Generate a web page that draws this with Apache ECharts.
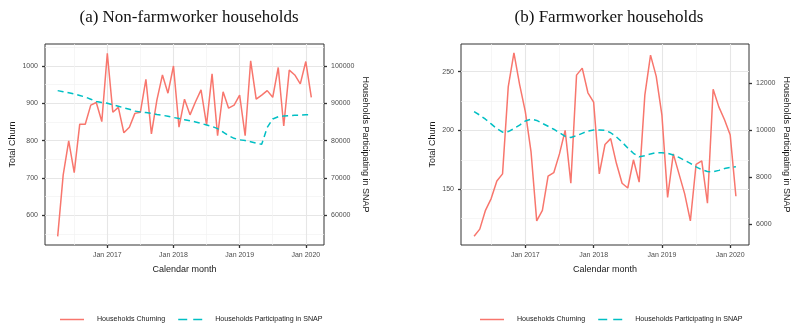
<!DOCTYPE html>
<html><head><meta charset="utf-8">
<script src="https://cdn.jsdelivr.net/npm/echarts@6/dist/echarts.min.js"></script>
<style>html,body{margin:0;padding:0;background:#fff}#c{width:800px;height:331px}</style>
</head><body><div id="c"></div>
<script>
// ---- data ----
const months = [
  '2016-04','2016-05','2016-06','2016-07','2016-08','2016-09','2016-10','2016-11','2016-12',
  '2017-01','2017-02','2017-03','2017-04','2017-05','2017-06','2017-07','2017-08','2017-09','2017-10','2017-11','2017-12',
  '2018-01','2018-02','2018-03','2018-04','2018-05','2018-06','2018-07','2018-08','2018-09','2018-10','2018-11','2018-12',
  '2019-01','2019-02','2019-03','2019-04','2019-05','2019-06','2019-07','2019-08','2019-09','2019-10','2019-11','2019-12',
  '2020-01','2020-02'
];
const churnA = [543,708,799,714,844,844,895,902,851,
  1034,876,889,821,836,873,876,964,818,909,976,927,
  1000,836,911,869,904,936,842,979,813,931,887,895,
  922,813,1014,911,922,934,916,996,839,989,976,952,
  1012,916];
const snapA = [93400,93100,92800,92500,92100,91700,91100,90500,90200,
  90000,89600,89200,88800,88400,87900,87700,87500,87300,87000,86800,86500,
  86200,85900,85600,85300,85000,84600,84200,83800,83200,82300,81300,80600,
  80200,80000,79700,79300,79000,83500,85800,86400,86600,86700,86800,86800,
  86900,86900];
const churnB = [110,116,132,142,157,163,237,266,239,
  216,182,123,132,161,164,180,200,155,247,253,232,
  224,163,188,193,172,155,151,175,156,230,264,246,
  213,143,180,163,146,123,171,174,138,235,220,209,
  196,144];
const snapB = [10800,10650,10475,10275,10075,9925,9950,10075,10225,
  10400,10475,10425,10300,10175,10050,9900,9750,9700,9775,9875,9975,
  10015,10015,10000,9900,9725,9500,9250,9025,8875,8925,9000,9050,
  9050,9025,8950,8850,8725,8600,8450,8325,8250,8240,8300,8375,
  8425,8450];
const xTickMonths = ['2017-01','2018-01','2019-01','2020-01'];
const xTickLabels = ['Jan 2017','Jan 2018','Jan 2019','Jan 2020'];
const xMinorMonths = ['2016-07','2017-07','2018-07','2019-07'];
const yTicksA = [600,700,800,900,1000];
const yMinorA = [550,650,750,850,950,1050];
const y2TicksA = [60000,70000,80000,90000,100000];
const yTicksB = [150,200,250];
const yMinorB = [125,175,225];
const y2TicksB = [6000,8000,10000,12000];
const seriesNames = ['Households Churning','Households Participating in SNAP'];
const titles = ['(a) Non-farmworker households','(b) Farmworker households'];

// ---- helpers ----
function mIdx(s){ const p = s.split('-').map(Number); return (p[0]-2016)*12 + (p[1]-1); }
const tickIdx = xTickMonths.map(mIdx);
const minorIdx = xMinorMonths.map(mIdx);
const RED = '#F8766D', TEAL = '#00BFC4';
const FONT = 'Liberation Sans';
const labelStyle = {fontSize: 7, color: '#4d4d4d', fontFamily: FONT};
const nameStyle = {fontSize: 9, color: '#1a1a1a', fontFamily: FONT};
const tickStyle = {show: true, length: 3, lineStyle: {color: '#333', width: 1.3}};
const plain = v => String(Math.round(v));

function xMain(g){
  return {gridIndex: g, type: 'value', min: 0.7, max: 51.3, position: 'bottom',
    axisLine: {show: false},
    axisTick: Object.assign({customValues: tickIdx}, tickStyle),
    axisLabel: Object.assign({customValues: tickIdx, margin: 7,
      formatter: v => { const i = tickIdx.indexOf(Math.round(v)); return i >= 0 ? xTickLabels[i] : ''; }}, labelStyle),
    splitLine: {show: true, lineStyle: {color: '#e6e6e6', width: 1.1}},
    name: 'Calendar month', nameLocation: 'middle', nameGap: 20, nameTextStyle: nameStyle};
}
function xMinor(g){
  return {gridIndex: g, type: 'value', min: 0.7, max: 51.3, position: 'top',
    axisLine: {show: false}, axisTick: {show: false, customValues: minorIdx},
    axisLabel: {show: false}, splitLine: {show: true, lineStyle: {color: '#f2f2f2', width: 0.7}}};
}
function yLeft(g, min, max, ticks, gap){
  return {gridIndex: g, type: 'value', min: min, max: max, position: 'left',
    axisLine: {show: false},
    axisTick: Object.assign({customValues: ticks}, tickStyle),
    axisLabel: Object.assign({customValues: ticks, margin: 7, formatter: plain}, labelStyle),
    splitLine: {show: true, lineStyle: {color: '#e6e6e6', width: 1.1}},
    name: 'Total Churn', nameLocation: 'middle', nameGap: gap, nameTextStyle: nameStyle};
}
function yRight(g, min, max, ticks, gap){
  return {gridIndex: g, type: 'value', min: min, max: max, position: 'right',
    axisLine: {show: false},
    axisTick: Object.assign({customValues: ticks}, tickStyle),
    axisLabel: Object.assign({customValues: ticks, margin: 7, formatter: plain}, labelStyle),
    splitLine: {show: false},
    name: 'Households Participating in SNAP', nameLocation: 'middle', nameRotate: -90, nameGap: gap, nameTextStyle: nameStyle};
}
function yMinor(g, min, max, ticks){
  return {gridIndex: g, type: 'value', min: min, max: max, position: 'left',
    axisLine: {show: false}, axisTick: {show: false, customValues: ticks},
    axisLabel: {show: false}, splitLine: {show: true, lineStyle: {color: '#f2f2f2', width: 0.7}}};
}
function toXY(vals){ return months.map((m, i) => [mIdx(m), vals[i]]); }
function lineSeries(name, xi, yi, vals, color, dashed){
  return {name: name, type: 'line', xAxisIndex: xi, yAxisIndex: yi, data: toXY(vals),
    symbol: 'none', showSymbol: false, animation: false, z: dashed ? 3 : 2,
    lineStyle: {color: color, width: 1.5, type: dashed ? [6, 4] : 'solid'},
    itemStyle: {color: color}};
}
function legend(left){
  return {left: left, top: 311, itemWidth: 24, itemHeight: 2, itemGap: 13,
    selectedMode: false,
    data: [
      {name: seriesNames[0], icon: 'path://M0,0H24V1.5H0Z'},
      {name: seriesNames[1], icon: 'path://M0,0H9V1.5H0Z M15,0H24V1.5H15Z'}
    ],
    textStyle: {fontSize: 7.1, color: '#1a1a1a', fontFamily: FONT, padding: [0, 0, 0, 8]}};
}

const aMin = 520, aMax = 1059, bMin = 102.5, bMax = 273.5;
const titleStyle = {fontFamily: 'Liberation Serif', fontSize: 17, fontWeight: 'normal', color: '#111'};
const option = {
  backgroundColor: '#fff',
  animation: false,
  title: [
    {text: titles[0], left: 184, top: 4, textAlign: 'center', textStyle: titleStyle},
    {text: titles[1], left: 604, top: 4, textAlign: 'center', textStyle: titleStyle}
  ],
  legend: [legend(55), legend(475)],
  grid: [
    {left: 45, top: 44, width: 279, height: 201, show: true, borderColor: '#333', borderWidth: 1, backgroundColor: 'transparent'},
    {left: 461, top: 44, width: 288, height: 201, show: true, borderColor: '#333', borderWidth: 1, backgroundColor: 'transparent'}
  ],
  xAxis: [xMain(0), xMinor(0), xMain(1), xMinor(1)],
  yAxis: [
    yLeft(0, aMin, aMax, yTicksA, 28),
    yRight(0, aMin * 100, aMax * 100, y2TicksA, 37),
    yMinor(0, aMin, aMax, yMinorA),
    yLeft(1, bMin, bMax, yTicksB, 24),
    yRight(1, bMin * 50, bMax * 50, y2TicksB, 33),
    yMinor(1, bMin, bMax, yMinorB)
  ],
  series: [
    lineSeries(seriesNames[0], 0, 0, churnA, RED, false),
    lineSeries(seriesNames[1], 0, 1, snapA, TEAL, true),
    lineSeries(seriesNames[0], 2, 3, churnB, RED, false),
    lineSeries(seriesNames[1], 2, 4, snapB, TEAL, true)
  ]
};
const chart = echarts.init(document.getElementById('c'), null, {renderer: 'canvas'});
chart.setOption(option);
</script>
</body></html>
